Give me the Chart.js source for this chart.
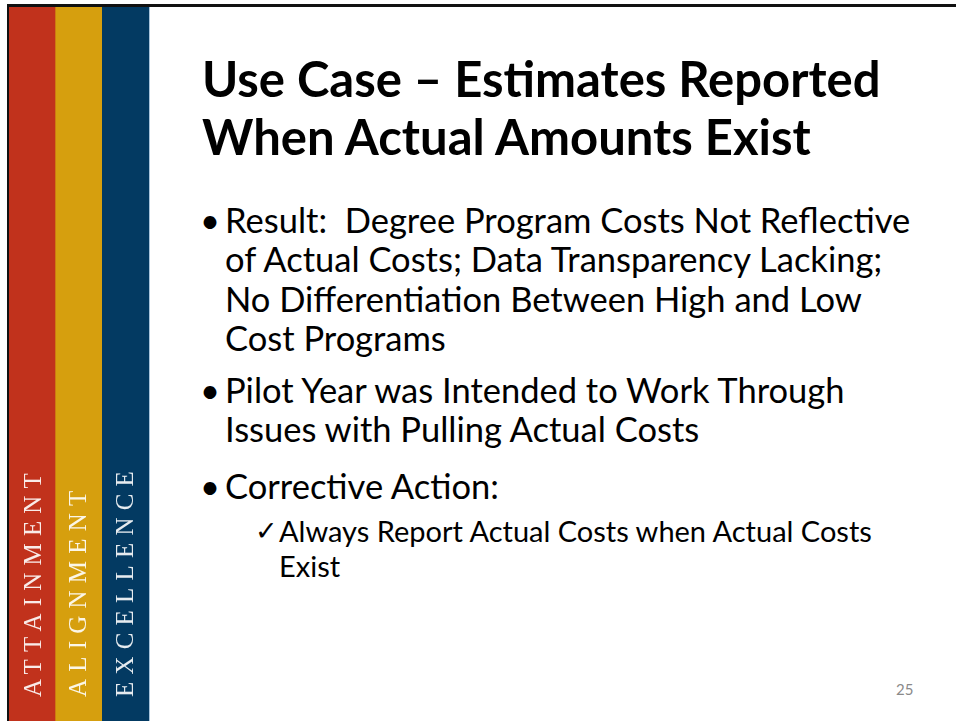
<!DOCTYPE html>
<html>
<head>
<meta charset="utf-8">
<script src="https://cdn.jsdelivr.net/npm/chart.js@4"></script>
<style>
  html, body { margin: 0; padding: 0; background: #fff; }
  body { width: 956px; height: 721px; position: relative; overflow: hidden; font-family: Lato, "Open Sans", sans-serif; color: #000; }
  #topRule { position: absolute; left: 7px; top: 4px; width: 949px; height: 3px; background: #111; }
  #leftRule { position: absolute; left: 7px; top: 4px; width: 2px; height: 717px; background: #111; }
  #stripeBox { position: absolute; left: 9px; top: 7px; width: 140px; height: 714px; border-right: 1px solid #a9c4db; }
  .stripeText { position: absolute; transform-origin: 0 0; transform: rotate(-90deg) translate(0, -50%);
    font-family: "Liberation Serif", "DejaVu Serif", serif; font-size: 25px; line-height: 25px;
    letter-spacing: 7.2px; color: rgba(255,255,255,0.9); white-space: nowrap; }
  .line { position: absolute; white-space: pre; }
  .title { font-weight: bold; font-size: 49px; }
  .body { font-size: 34.5px; }
  .sub { font-size: 29px; }
  .mark { font-family: "DejaVu Sans", sans-serif; font-size: 27px; font-weight: bold; }
  #pageNo { position: absolute; left: 896px; top: 680px; font-size: 15px; color: #8a8a8a; font-family: Lato, sans-serif; }
</style>
</head>
<body>
<div id="topRule"></div>
<div id="leftRule"></div>
<div id="stripeBox"><canvas id="stripeChart"></canvas></div>
<div id="textLayer"></div>
<div id="pageNo">25</div>

<script>
// Stripe data (one full-height bar per stripe)
const stripeLabels = ['ATTAINMENT', 'ALIGNMENT', 'EXCELLENCE'];
const stripeValues = [1, 1, 1];
const stripeColors = ['#c1321c', '#d69f0e', '#033a62'];

// Slide text
const titleLines = ['Use Case \u2013 Estimates Reported', 'When Actual Amounts Exist'];
const bulletLines = [
  ['Result:  Degree Program Costs Not Reflective', 'of Actual Costs; Data Transparency Lacking;', 'No Differentiation Between High and Low', 'Cost Programs'],
  ['Pilot Year was Intended to Work Through', 'Issues with Pulling Actual Costs'],
  ['Corrective Action:']
];
const subLines = ['Always Report Actual Costs when Actual Costs', 'Exist'];

// Baselines (px)
const titleBaselines = [98, 156];
const bulletBaselines = [[234, 273, 313, 352], [404, 443], [500]];
const subBaselines = [542, 577];

function addLine(text, cls, x, baseline, asc) {
  const el = document.createElement('div');
  el.className = 'line ' + cls;
  el.textContent = text;
  el.style.left = x + 'px';
  el.style.lineHeight = '1';
  document.getElementById('textLayer').appendChild(el);
  const size = parseFloat(getComputedStyle(el).fontSize);
  // line-height 1 => baseline sits at roughly 0.89em for Lato
  el.style.top = (baseline - size * asc) + 'px';
  return el;
}

function drawText() {
  const asc = 0.89;
  titleLines.forEach((t, i) => addLine(t, 'title', 202, titleBaselines[i], asc));
  bulletLines.forEach((lines, b) => {
    lines.forEach((t, i) => {
      if (i === 0) addLine('\u2022', 'body', 200, bulletBaselines[b][i], asc);
      addLine(t, 'body', 225, bulletBaselines[b][i], asc);
    });
  });
  subLines.forEach((t, i) => {
    if (i === 0) addLine('\u2713', 'mark', 255, subBaselines[i], 0.93);
    addLine(t, 'sub', 279, subBaselines[i], asc);
  });

  // rotated labels inside the stripes, reading bottom to top
  const centers = [32, 77, 124];
  stripeLabels.forEach((label, i) => {
    const el = document.createElement('div');
    el.className = 'stripeText';
    el.textContent = label;
    el.style.left = centers[i] + 'px';
    el.style.top = '697px';
    document.body.appendChild(el);
  });
}

function initializeStripeChart() {
  const canvas = document.getElementById('stripeChart');
  const ctx = canvas.getContext('2d');
  return new Chart(ctx, {
    type: 'bar',
    data: {
      labels: stripeLabels,
      datasets: [{
        data: stripeValues,
        backgroundColor: stripeColors,
        borderWidth: 0,
        barPercentage: 1,
        categoryPercentage: 1
      }]
    },
    options: {
      responsive: true,
      maintainAspectRatio: false,
      animation: false,
      layout: { padding: 0 },
      plugins: { legend: { display: false }, tooltip: { enabled: false } },
      scales: {
        x: { display: false, offset: true },
        y: { display: false, min: 0, max: 1 }
      }
    }
  });
}

initializeStripeChart();
drawText();
</script>
</body>
</html>
